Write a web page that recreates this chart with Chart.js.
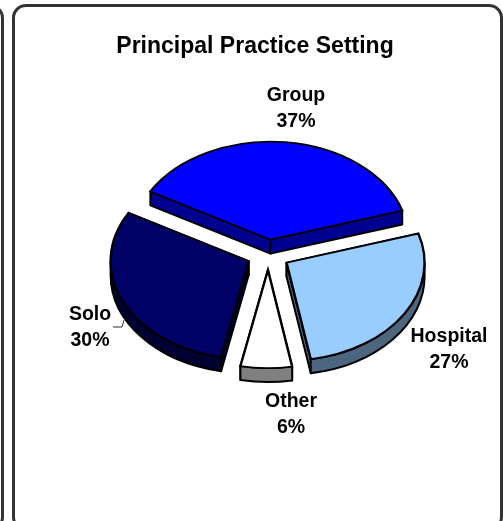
<!DOCTYPE html>
<html>
<head>
<meta charset="utf-8">
<script src="https://cdn.jsdelivr.net/npm/chart.js@4"></script>
<style>
    html, body { margin: 0; padding: 0; background: #fff; overflow: hidden; }
    #wrap { position: relative; width: 503px; height: 521px; overflow: hidden; }
    .panel { position: absolute; box-sizing: border-box; border: 3px solid #333; border-radius: 14px; }
    #prev { left: -60px; top: 4px; width: 64px; height: 527px; }
    #main { left: 12px; top: 4px; width: 491px; height: 527px; }
    #c { position: absolute; left: 0; top: 0; }
</style>
</head>
<body>
<div id="wrap">
    <div class="panel" id="prev"></div>
    <div class="panel" id="main"></div>
    <canvas id="c" width="503" height="521"></canvas>
</div>
<script>
// ============ Data ============
const categories = ['Group', 'Hospital', 'Other', 'Solo'];
const shares = [37, 27, 6, 30];
const topColors = ['#0000FF', '#99CCFF', '#FFFFFF', '#000066'];
const sideColors = ['#000090', '#4D6680', '#808080', '#000033'];

// ============ Layout ============
const squash = 0.71;      // y scale of the tilted pie
const depth = 14;
const explode = 21.5;
const pieShiftX = 13.2;
const labelSpots = [[296, 96], [449, 337], [291, 402], [90, 315]];
const lineGap = 26;

const pie3d = {
    id: 'pie3d',
    beforeDatasetDraw(chart, args) {
        const ctx = chart.ctx;
        chart.getDatasetMeta(args.index).data.forEach((arc, i) => {
            const mid = (arc.startAngle + arc.endAngle) / 2;
            const x = arc.x + pieShiftX + Math.cos(mid) * explode;
            const y = arc.y + Math.sin(mid) * explode * squash;
            const rx = arc.outerRadius, ry = rx * squash;

            // cut faces, then the front part of the rim
            ctx.save();
            ctx.fillStyle = sideColors[i];
            ctx.strokeStyle = '#000';
            ctx.lineWidth = 2;
            ctx.lineJoin = 'round';
            [arc.startAngle, arc.endAngle].forEach(a => {
                const ex = x + Math.cos(a) * rx, ey = y + Math.sin(a) * ry;
                ctx.beginPath();
                ctx.moveTo(x, y);
                ctx.lineTo(ex, ey);
                ctx.lineTo(ex, ey + depth);
                ctx.lineTo(x, y + depth);
                ctx.closePath();
                ctx.fill();
                ctx.stroke();
            });
            const norm = a => Math.atan2(Math.sin(a), Math.cos(a));
            // only keep what faces the viewer (0..PI on the canvas)
            const n0 = norm(arc.startAngle), n1 = n0 + (arc.endAngle - arc.startAngle);
            const from = Math.max(n0, 0), to = Math.min(n1, Math.PI);
            if (to > from) {
                ctx.beginPath();
                ctx.ellipse(x, y, rx, ry, 0, from, to);
                ctx.ellipse(x, y + depth, rx, ry, 0, to, from, true);
                ctx.closePath();
                ctx.fill();
                ctx.stroke();
            }
            ctx.restore();

            // top face, drawn by the arc element itself
            ctx.save();
            ctx.translate(x, y);
            ctx.scale(1, squash);
            ctx.translate(-arc.x, -arc.y);
            arc.draw(ctx);
            ctx.restore();
        });
        return false;
    },
    afterDraw(chart) {
        const ctx = chart.ctx;
        ctx.save();
        ctx.fillStyle = '#000';
        ctx.font = 'bold 19.5px "Liberation Sans", Arial, sans-serif';
        ctx.textAlign = 'center';
        ctx.textBaseline = 'middle';
        categories.forEach((name, i) => {
            const [lx, ly] = labelSpots[i];
            ctx.fillText(name, lx, ly);
            ctx.fillText(shares[i] + '%', lx, ly + lineGap);
        });
        // leader line of the Solo label
        ctx.strokeStyle = '#333';
        ctx.lineWidth = 1;
        ctx.beginPath();
        ctx.moveTo(113, 327);
        ctx.lineTo(122, 327);
        ctx.lineTo(124, 320);
        ctx.stroke();
        ctx.restore();
    }
};

new Chart(document.getElementById('c'), {
    type: 'pie',
    data: {
        labels: categories,
        datasets: [{
            data: shares,
            backgroundColor: topColors,
            borderColor: '#000',
            borderWidth: 2.4,
            borderJoinStyle: 'miter'
        }]
    },
    options: {
        responsive: false,
        animation: false,
        rotation: -60.5,
        radius: 138,
        layout: { padding: { left: 7, top: 33, bottom: 72 } },
        plugins: {
            legend: { display: false },
            tooltip: { enabled: false },
            title: {
                display: true,
                text: 'Principal Practice Setting',
                color: '#000',
                padding: 0,
                font: { family: '"Liberation Sans", Arial, sans-serif', size: 23, weight: 'bold' }
            }
        }
    },
    plugins: [pie3d]
});
</script>
</body>
</html>
